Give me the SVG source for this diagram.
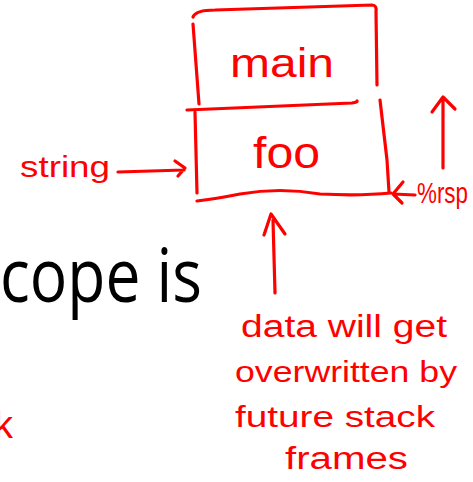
<svg xmlns="http://www.w3.org/2000/svg" width="473" height="482" viewBox="0 0 473 482">
<style>
.ink{fill:none;stroke:#ff0000;stroke-width:3.2;stroke-linecap:round;stroke-linejoin:round}
.hw{fill:#ff0000;font-family:"Liberation Sans","DejaVu Sans",sans-serif}
.slide{fill:#000000;font-family:"Open Sans","Liberation Sans",sans-serif}
</style>
<rect width="473" height="482" fill="#ffffff"/>
<g id="slide-text">
<text class="slide" x="0" y="302" font-size="75" textLength="202" lengthAdjust="spacingAndGlyphs">cope is</text>
<text class="hw" x="-6" y="438" font-size="38">k</text>
</g>
<g id="frame-main">
<path class="ink" d="M193,17 Q196,10 215,10 L372,5 Q377,5 376,12 L377,85"/>
<path class="ink" d="M193,24 L199,104"/>
<text class="hw" x="230" y="77" font-size="40" textLength="104" lengthAdjust="spacingAndGlyphs">main</text>
</g>
<g id="frame-foo">
<path class="ink" d="M187,110 L352,103 Q358,102 357,101"/>
<path class="ink" d="M195,112 L197,193"/>
<path class="ink" d="M380,100 L387,160 L389,192"/>
<path class="ink" d="M197,201 Q215,199 240,194 Q280,187 320,194 Q360,196 391,193"/>
<text class="hw" x="253" y="168" font-size="44" textLength="67" lengthAdjust="spacingAndGlyphs">foo</text>
</g>
<g id="label-string">
<text class="hw" x="20" y="177" font-size="29" textLength="90" lengthAdjust="spacingAndGlyphs">string</text>
</g>
<g id="label-rsp">
<text class="hw" x="417" y="203" font-size="29" textLength="51" lengthAdjust="spacingAndGlyphs">%rsp</text>
</g>
<g id="note">
<text class="hw" x="241" y="337" font-size="31" textLength="206" lengthAdjust="spacingAndGlyphs">data will get</text>
<text class="hw" x="235" y="382" font-size="30" textLength="222" lengthAdjust="spacingAndGlyphs">overwritten by</text>
<text class="hw" x="235" y="427" font-size="30" textLength="200" lengthAdjust="spacingAndGlyphs">future stack</text>
<text class="hw" x="285" y="469" font-size="31" textLength="123" lengthAdjust="spacingAndGlyphs">frames</text>
</g>
<g id="connectors">
<path class="ink" d="M118,172 L184,170 M175,161 L185,168 L178,176"/>
<path class="ink" d="M415,195 L393,194 M403,182 L393,194 L402,203"/>
<path class="ink" d="M443,168 L443,98 M432,112 L443,97 L455,109"/>
<path class="ink" d="M275,293 L273,220 M264,235 L271,214 L285,234"/>
</g>
</svg>
